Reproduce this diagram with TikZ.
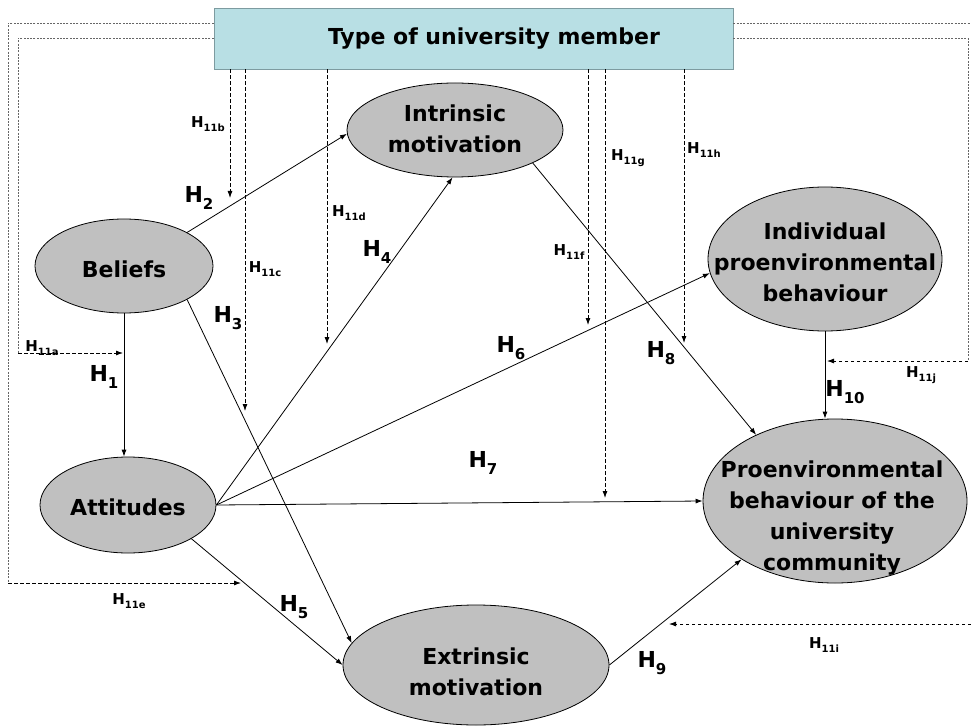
\documentclass[tikz,border=0pt]{standalone}
\usepackage{fontspec}
\setmainfont{DejaVu Sans}
\usetikzlibrary{arrows.meta,shapes.geometric}
\definecolor{boxfill}{RGB}{184,223,228}
\definecolor{boxline}{RGB}{125,155,160}
\definecolor{ellfill}{RGB}{192,192,192}
\newcommand\bigH[1]{H\raisebox{-0.32em}{\fontsize{15}{15}\selectfont #1}}
\newcommand\smallH[1]{H\raisebox{-0.3em}{\fontsize{10}{10}\selectfont #1}}
\begin{document}
\begin{tikzpicture}[x=1pt,y=-1pt,
  ell/.style={ellipse,draw,fill=ellfill,line width=0.8pt,inner sep=0pt},
  etxt/.style={font=\fontsize{22}{31}\selectfont\bfseries,align=center,inner sep=0pt},
  hyp/.style={font=\fontsize{22}{22}\selectfont\bfseries,inner sep=0pt},
  hsm/.style={font=\fontsize{15}{15}\selectfont\bfseries,inner sep=0pt},
  arr/.style={-{Latex[length=7pt,width=5pt]},line width=0.8pt},
  darr/.style={-{Latex[length=7pt,width=5pt]},line width=0.8pt,dash pattern=on 3.5pt off 2.5pt},
  dline/.style={line width=0.7pt,black!60,dash pattern=on 2pt off 1.3pt}]
\useasboundingbox (0,0) rectangle (971,727);

% top box
\node[draw=boxline,fill=boxfill,line width=0.8pt,minimum width=519pt,minimum height=61pt,inner sep=0pt] (tum) at (473.5,38.5) {};
\node[etxt] (tumt) at (494,39) {Type of university member};

% ellipses
\node[ell,minimum width=178pt,minimum height=94pt] (bel) at (124,266) {};
\node[etxt] (belt) at (124,269) {Beliefs};
\node[ell,minimum width=176pt,minimum height=96pt] (att) at (128,505) {};
\node[etxt] (attt) at (128,507) {Attitudes};
\node[ell,minimum width=216pt,minimum height=94pt] (int) at (455,130) {};
\node[etxt] (intt) at (455,129) {Intrinsic\\motivation};
\node[ell,minimum width=234pt,minimum height=144pt] (ind) at (825,259) {};
\node[etxt] (indt) at (825,262) {Individual\\proenvironmental\\behaviour};
\node[ell,minimum width=264pt,minimum height=164pt] (pro) at (835,501) {};
\node[etxt] (prot) at (832,518) {Proenvironmental\\behaviour of the\\university\\community};
\node[ell,minimum width=266pt,minimum height=120pt] (ext) at (476,665) {};
\node[etxt] (extt) at (476,672) {Extrinsic\\motivation};

% solid paths
\draw[arr] (bel.south) -- (bel.south |- att.north);
\draw[arr] (bel.28) -- (int.182);
\draw[arr] (bel.-28) -- (ext.170);
\draw[arr] (att.east) -- (int.-93);
\draw[arr] (att.-28) -- (ext.west);
\draw[arr] (att.east) -- (ind.187);
\draw[arr] (att.east) -- (pro.west);
\draw[arr] (int.-23) -- (pro.140);
\draw[arr] (ext.east) -- (pro.-148);
\draw[arr] (ind.south) -- (ind.south |- pro.north);

% dashed moderators from the box
\coordinate (e11b) at (230,198);
\coordinate (e11c) at (245,411);
\coordinate (e11d) at (327,344);
\coordinate (e11f) at (588,325);
\coordinate (e11g) at (605,498);
\coordinate (e11h) at (684,343);
\draw[darr] (tum.south -| e11b) -- (e11b);
\draw[darr] (tum.south -| e11c) -- (e11c);
\draw[darr] (tum.south -| e11d) -- (e11d);
\draw[darr] (tum.south -| e11f) -- (e11f);
\draw[darr] (tum.south -| e11g) -- (e11g);
\draw[darr] (tum.south -| e11h) -- (e11h);

% left routes
\coordinate (ca1) at (18,38);
\coordinate (ca2) at (18,353);
\coordinate (e11a) at (123,353);
\draw[dline] (tum.west |- ca1) -- (ca1) -- (ca2);
\draw[darr] (ca2) -- (e11a);
\coordinate (ce1) at (8,23);
\coordinate (ce2) at (8,583);
\coordinate (e11e) at (241,583);
\draw[dline] (tum.west |- ce1) -- (ce1) -- (ce2);
\draw[darr] (ce2) -- (e11e);

% right routes
\coordinate (cj1) at (968,38);
\coordinate (cj2) at (968,361);
\coordinate (e11j) at (827,361);
\draw[dline] (tum.east |- cj1) -- (cj1) -- (cj2);
\draw[darr] (cj2) -- (e11j);
\coordinate (ci1) at (971,23);
\draw[dline] (tum.east |- ci1) -- (ci1);
\coordinate (ci2) at (971,624);
\coordinate (e11i) at (669,624);
\draw[darr] (ci2) -- (e11i);

% hypothesis labels
\node[hyp] (h1) at (104,377) {\bigH{1}};
\node[hyp] (h2) at (199,198) {\bigH{2}};
\node[hyp] (h3) at (228,318) {\bigH{3}};
\node[hyp] (h4) at (377,252) {\bigH{4}};
\node[hyp] (h5) at (294,607) {\bigH{5}};
\node[hyp] (h6) at (511,348) {\bigH{6}};
\node[hyp] (h7) at (483,463) {\bigH{7}};
\node[hyp] (h8) at (661,353) {\bigH{8}};
\node[hyp] (h9) at (652,663) {\bigH{9}};
\node[hyp] (h10) at (845,392) {\bigH{10}};

\node[hsm] (l11a) at (42,348) {\smallH{11a}};
\node[hsm] (l11b) at (208,124) {\smallH{11b}};
\node[hsm] (l11c) at (265,269) {\smallH{11c}};
\node[hsm] (l11d) at (349,213) {\smallH{11d}};
\node[hsm] (l11e) at (129,601) {\smallH{11e}};
\node[hsm] (l11f) at (569,252) {\smallH{11f}};
\node[hsm] (l11g) at (628,158) {\smallH{11g}};
\node[hsm] (l11h) at (704,150) {\smallH{11h}};
\node[hsm] (l11i) at (824,645) {\smallH{11i}};
\node[hsm] (l11j) at (921,375) {\smallH{11j}};
\end{tikzpicture}
\end{document}
